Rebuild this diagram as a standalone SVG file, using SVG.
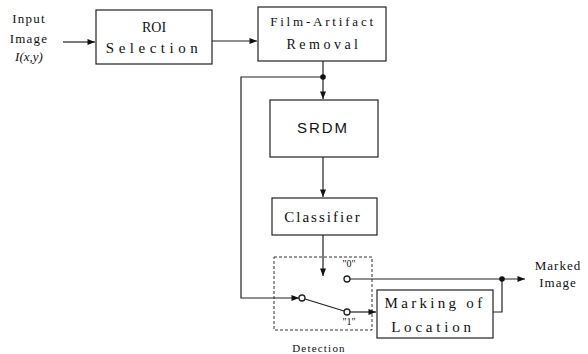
<svg xmlns="http://www.w3.org/2000/svg" width="588" height="354" viewBox="0 0 588 354">
<style>
.box{fill:#fff;stroke:#222;stroke-width:1.2}
.ln{fill:none;stroke:#222;stroke-width:1.2}
.dash{fill:none;stroke:#333;stroke-width:1;stroke-dasharray:3,2}
.t{font-family:"Liberation Serif",serif;fill:#111;text-anchor:middle}
.term{fill:#fff;stroke:#222;stroke-width:1.3}
</style>
<defs>
<marker id="ah" viewBox="0 0 10 8" refX="10" refY="4" markerWidth="8" markerHeight="6" markerUnits="userSpaceOnUse" orient="auto">
<path d="M0,0 L10,4 L0,8 z" fill="#111"/>
</marker>
</defs>
<g id="input">
<text class="t" x="29" y="23" font-size="13" letter-spacing="1.2">Input</text>
<text class="t" x="29" y="43" font-size="13" letter-spacing="1.2">Image</text>
<text class="t" x="29" y="61" font-size="13" font-style="italic">I(x,y)</text>
</g>
<g id="roi">
<rect class="box" x="96" y="10" width="116" height="54"/>
<text class="t" x="154" y="32" font-size="14">ROI</text>
<text class="t" x="154" y="53" font-size="15" letter-spacing="4.5">Selection</text>
</g>
<g id="film">
<rect class="box" x="258" y="7" width="128" height="54"/>
<text class="t" x="323" y="26" font-size="13" letter-spacing="2.8">Film-Artifact</text>
<text class="t" x="324" y="49" font-size="14" letter-spacing="3.5">Removal</text>
</g>
<g id="srdm">
<rect class="box" x="270" y="100" width="108" height="57"/>
<text class="t" x="323" y="133" font-size="15" letter-spacing="2" style="font-family:'Liberation Sans',sans-serif">SRDM</text>
</g>
<g id="classifier">
<rect class="box" x="272" y="198" width="105" height="37"/>
<text class="t" x="323" y="222" font-size="15" letter-spacing="2">Classifier</text>
</g>
<g id="detection">
<rect class="dash" x="274" y="257" width="98" height="73"/>
<text class="t" x="319" y="352" font-size="11" letter-spacing="1.2">Detection</text>
<text class="t" x="349" y="267" font-size="10">"0"</text>
<text class="t" x="349" y="325" font-size="10">"1"</text>
</g>
<g id="marking">
<rect class="box" x="377" y="290" width="116" height="48"/>
<text class="t" x="435" y="308" font-size="15" letter-spacing="3.3">Marking of</text>
<text class="t" x="433" y="332" font-size="15" letter-spacing="3.8">Location</text>
</g>
<g id="output">
<text class="t" x="558" y="270" font-size="13" letter-spacing="1">Marked</text>
<text class="t" x="558" y="287" font-size="13" letter-spacing="1">Image</text>
</g>
<g id="connectors">
<line class="ln" x1="63" y1="42" x2="95" y2="42" marker-end="url(#ah)"/>
<line class="ln" x1="212" y1="41" x2="257" y2="41" marker-end="url(#ah)"/>
<line class="ln" x1="323" y1="61" x2="323" y2="99" marker-end="url(#ah)"/>
<polyline class="ln" points="323,77 241,77 241,298 299,298" marker-end="url(#ah)"/>
<line class="ln" x1="323" y1="157" x2="323" y2="197" marker-end="url(#ah)"/>
<line class="ln" x1="323" y1="235" x2="323" y2="276" marker-end="url(#ah)"/>
<line class="ln" x1="305" y1="299" x2="344" y2="311"/>
<line class="ln" x1="350" y1="312" x2="376" y2="312" marker-end="url(#ah)"/>
<line class="ln" x1="350" y1="279" x2="525" y2="279" marker-end="url(#ah)"/>
<polyline class="ln" points="493,312 502,312 502,279"/>
<circle cx="323" cy="77" r="2.8" fill="#111"/>
<circle cx="502" cy="279" r="2.8" fill="#111"/>
<circle class="term" cx="302" cy="298" r="3"/>
<circle class="term" cx="347" cy="312" r="3"/>
<circle class="term" cx="347" cy="279" r="3"/>
</g>
</svg>
